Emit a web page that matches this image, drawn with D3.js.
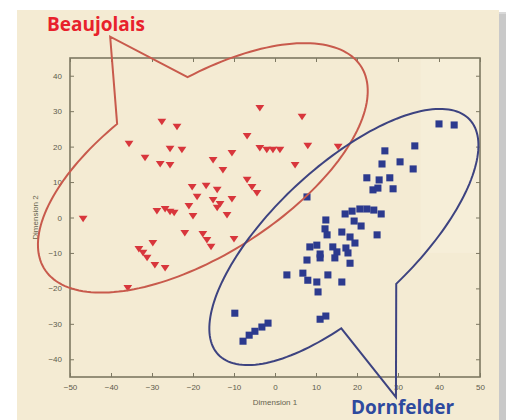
<!DOCTYPE html>
<html>
<head>
<meta charset="utf-8">
<script src="https://cdn.jsdelivr.net/npm/d3@7"></script>
<style>
  body { margin: 0; background: #fff; }
  .tick-label { font-family: "Liberation Sans", Arial, sans-serif; font-size: 8px; fill: #5e5b4c; }
  .axis-title { font-family: "Liberation Sans", Arial, sans-serif; font-size: 8px; fill: #66634f; }
  .group-label { font-family: "Open Sans", "Noto Sans", sans-serif; font-weight: 700; font-size: 19px; }
</style>
</head>
<body>
<svg id="chart" width="506" height="420"></svg>
<script>
// tick values
const xTicks = [-50, -40, -30, -20, -10, 0, 10, 20, 30, 40, 50];
const yTicks = [-40, -30, -20, -10, 0, 10, 20, 30, 40];

// Beaujolais points [dim1, dim2]
const beaujolais = [
  [-46.8, -0.4], [-35.9, -19.9], [-35.6, 20.8], [-27.6, 27.0], [-23.9, 25.6],
  [-31.7, 16.8], [-25.6, 19.4], [-22.7, 19.1], [-28.0, 15.1], [-25.6, 14.8],
  [-15.1, 16.2], [-12.7, 13.4], [-10.5, 18.2], [-6.8, 23.0], [-3.7, 30.9],
  [6.6, 28.4], [-3.7, 19.6], [-2.0, 19.1], [-0.5, 19.1], [1.2, 19.1],
  [4.9, 14.8], [8.0, 20.2], [15.4, 19.9], [-6.8, 10.6], [-5.6, 8.6],
  [-4.4, 6.9], [-20.2, 8.6], [-16.8, 8.9], [-14.1, 7.8], [-19.0, 5.8],
  [-15.1, 4.9], [-13.4, 3.8], [-10.5, 5.2], [-21.0, 3.2], [-14.1, 2.7],
  [-11.7, 0.7], [-20.0, 0.4], [-28.8, 1.8], [-26.8, 2.4], [-25.6, 1.6],
  [-24.6, 1.3], [-22.0, -4.4], [-17.6, -4.7], [-16.6, -6.4], [-15.6, -8.3],
  [-10.0, -6.1], [-29.8, -7.2], [-33.2, -8.9], [-32.2, -10.0], [-31.2, -11.4],
  [-29.3, -13.4], [-26.8, -14.3]
];

// Dornfelder points [dim1, dim2]
const dornfelder = [
  [40.0, 26.4], [43.7, 26.1], [34.1, 20.2], [26.8, 18.8], [26.1, 15.1],
  [30.5, 15.7], [33.7, 13.7], [22.4, 11.2], [25.4, 10.6], [28.0, 11.2],
  [23.9, 7.8], [25.1, 8.3], [28.8, 8.1], [7.8, 5.8], [17.1, 1.0],
  [18.8, 1.8], [20.7, 2.4], [22.4, 2.4], [24.1, 2.1], [25.9, 1.0],
  [19.3, -1.0], [21.0, -2.4], [24.9, -4.9], [12.4, -0.7], [12.2, -3.2],
  [12.7, -4.9], [18.3, -5.5], [16.3, -4.1], [8.5, -8.3], [10.2, -7.8],
  [14.1, -8.3], [15.1, -9.7], [17.3, -8.6], [17.8, -10.0], [19.5, -7.2],
  [7.8, -12.0], [11.0, -11.4], [14.6, -11.4], [18.3, -12.9], [11.0, -10.3],
  [2.9, -16.2], [6.8, -15.7], [8.0, -17.7], [10.2, -18.2], [12.9, -16.2],
  [16.3, -18.2], [10.5, -21.0], [11.0, -28.7], [12.4, -27.8], [-9.8, -27.0],
  [-1.7, -29.8], [-3.2, -30.9], [-4.9, -32.1], [-6.3, -33.2], [-7.8, -34.9]
];

// callout bubbles in data units: centre, two conjugate half-axes, arc range (deg), pointer tip
const bubbles = [
  { name: 'Beaujolais', color: '#c85a4c', center: [-17.6, 14.0], u: [38.6, 28.6], v: [11.3, -20.5],
    gap: [-79, 256], tip: [-40.2, 51.0] },
  { name: 'Dornfelder', color: '#3d4380', center: [16.8, -5.5], u: [30.7, 33.1], v: [11.6, -14.5],
    gap: [111.8, 448.5], tip: [29.5, -50.7] }
];

const svg = d3.select('#chart');

// panel + shadow
svg.append('rect').attr('x', 497).attr('y', 12).attr('width', 9).attr('height', 408).attr('fill', '#d9d9d9');
svg.append('rect').attr('x', 499).attr('y', 14).attr('width', 7).attr('height', 406).attr('fill', '#c9c9c9');
svg.append('rect').attr('x', 17).attr('y', 10).attr('width', 482).attr('height', 410).attr('fill', '#f4ebd3');

const x = d3.scaleLinear().domain([-50, 50]).range([70, 480]);
const y = d3.scaleLinear().domain([-45, 45]).range([377, 58]);

// slightly lighter patch at upper right of plot
svg.append('rect')
  .attr('x', x(35.5)).attr('y', y(45)).attr('width', x(50) - x(35.5)).attr('height', y(-10) - y(45))
  .attr('fill', '#f6eed8');

const axisColor = '#7d7862';

svg.append('rect')
  .attr('x', x(-50)).attr('y', y(45))
  .attr('width', x(50) - x(-50)).attr('height', y(-45) - y(45))
  .attr('fill', 'none').attr('stroke', axisColor).attr('stroke-width', 1.6);

const bottomAxis = d3.axisBottom(x).tickValues(xTicks).tickSize(-4).tickPadding(7);
const topAxis = d3.axisTop(x).tickValues(xTicks).tickSize(-4).tickFormat('');
const leftAxis = d3.axisLeft(y).tickValues(yTicks).tickSize(-4).tickPadding(8);
const rightAxis = d3.axisRight(y).tickValues(yTicks).tickSize(-4).tickFormat('');

function styleAxis(g) {
  g.select('.domain').remove();
  g.selectAll('.tick line').attr('stroke', axisColor);
  g.selectAll('.tick text').attr('class', 'tick-label').attr('fill', null);
}

svg.append('g').attr('transform', `translate(0,${y(-45)})`).call(bottomAxis).call(styleAxis);
svg.append('g').attr('transform', `translate(0,${y(45)})`).call(topAxis).call(styleAxis);
svg.append('g').attr('transform', `translate(${x(-50)},0)`).call(leftAxis).call(styleAxis);
svg.append('g').attr('transform', `translate(${x(50)},0)`).call(rightAxis).call(styleAxis);

svg.append('text').attr('class', 'axis-title')
  .attr('x', x(0)).attr('y', 405).attr('text-anchor', 'middle').text('Dimension 1');
svg.append('text').attr('class', 'axis-title')
  .attr('transform', `translate(38,${y(0)}) rotate(-90)`).attr('text-anchor', 'middle').text('Dimension 2');

// markers
const tri = 'M-4.4,-3.1L4.4,-3.1L0,3.4Z';
svg.append('g').selectAll('path')
  .data(beaujolais)
  .join('path')
  .attr('d', tri)
  .attr('transform', d => `translate(${x(d[0])},${y(d[1])})`)
  .attr('fill', '#d8363c');

svg.append('g').selectAll('path')
  .data(dornfelder)
  .join('path')
  .attr('d', d3.symbol(d3.symbolSquare, 50))
  .attr('transform', d => `translate(${x(d[0])},${y(d[1])})`)
  .attr('fill', '#2c3a8e');

// callout ellipses
function bubblePath(b) {
  const pts = [];
  const rad = Math.PI / 180;
  for (let t = b.gap[0]; t <= b.gap[1] + 0.01; t += 2) {
    const c = Math.cos(t * rad), s = Math.sin(t * rad);
    pts.push([x(b.center[0] + b.u[0] * c + b.v[0] * s), y(b.center[1] + b.u[1] * c + b.v[1] * s)]);
  }
  pts.push([x(b.tip[0]), y(b.tip[1])]);
  return d3.line()(pts) + 'Z';
}

svg.append('g').selectAll('path')
  .data(bubbles)
  .join('path')
  .attr('d', bubblePath)
  .attr('fill', 'none')
  .attr('stroke', d => d.color)
  .attr('stroke-width', 2)
  .attr('stroke-linejoin', 'miter');

svg.append('text').attr('class', 'group-label')
  .attr('x', 47).attr('y', 31).attr('fill', '#e8212b').text('Beaujolais');
svg.append('text').attr('class', 'group-label')
  .attr('x', 351).attr('y', 414).attr('fill', '#2e4a9e').text('Dornfelder');
</script>
</body>
</html>
